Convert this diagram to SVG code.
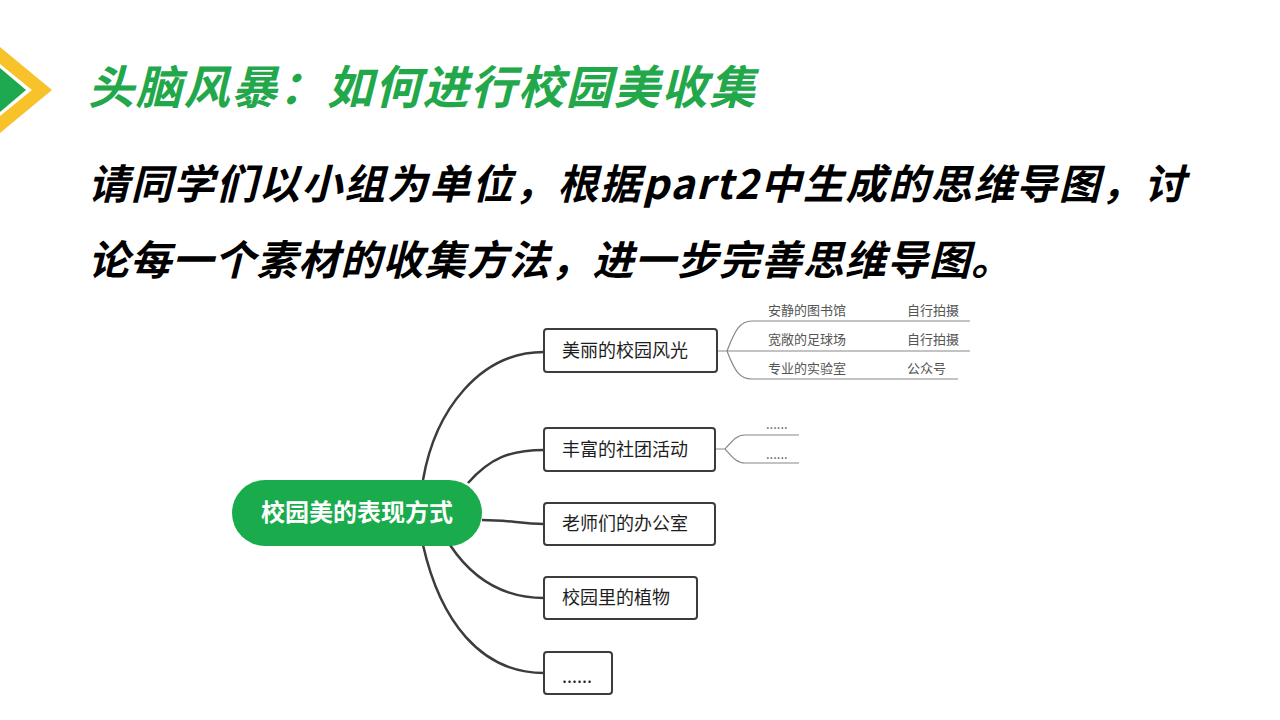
<svg xmlns="http://www.w3.org/2000/svg" width="1280" height="720" viewBox="0 0 1280 720">
<style>
.cjk{font-family:"Noto Sans CJK SC","Noto Sans",sans-serif}
.title{font-size:46px;font-weight:700;font-style:italic;fill:#22a84a}
.body{font-size:41px;font-weight:700;font-style:italic;fill:#000}
.box{fill:#fff;stroke:#3c3c3c;stroke-width:2;rx:3}
.boxt{font-size:18px;fill:#1e1e1e}
.small{font-size:13px;fill:#555}
.conn{fill:none;stroke:#3c3c3c;stroke-width:2.5}
.sub{fill:none;stroke:#888;stroke-width:1.2}
</style>
<rect width="1280" height="720" fill="#fff"/>
<g id="logo">
<polygon points="0,47 52,90 0,133 0,116 32,90 0,64" fill="#f8c22a"/>
<polygon points="0,68 26,90 0,112" fill="#1ea84f"/>
</g>
<text class="cjk title" x="88" y="104" textLength="667" lengthAdjust="spacing">头脑风暴：如何进行校园美收集</text>
<text class="cjk body" x="88" y="199" textLength="1097" lengthAdjust="spacing">请同学们以小组为单位，根据part2中生成的思维导图，讨</text>
<text class="cjk body" x="88" y="275" textLength="924" lengthAdjust="spacing">论每一个素材的收集方法，进一步完善思维导图。</text>
<g id="connectors">
<path class="conn" d="M423,480 C435,410 480,352 544,352"/>
<path class="conn" d="M468,483 C490,458 510,450 544,450"/>
<path class="conn" d="M482,520 C510,520 520,524 544,524"/>
<path class="conn" d="M450,545 C470,575 500,598 544,598"/>
<path class="conn" d="M423,545 C440,620 480,673 544,673"/>
<path class="sub" d="M717,351 H727 M727,351 C735,330 740,321 752,321 H970 M727,351 H970 M727,351 C735,372 740,379 752,379 H958"/>
<path class="sub" d="M715,449 H725 M725,449 C733,440 737,435 745,435 H799 M725,449 C733,458 737,463 745,463 H799"/>
</g>
<g id="root">
<rect x="232" y="480" width="250" height="66" rx="33" fill="#1aab4c"/>
<text class="cjk" x="357" y="521" text-anchor="middle" font-size="24" font-weight="700" fill="#fff">校园美的表现方式</text>
</g>
<g id="n1">
<rect class="box" x="544" y="329" width="173" height="43"/>
<text class="cjk boxt" x="562" y="357">美丽的校园风光</text>
</g>
<g id="n2">
<rect class="box" x="544" y="428" width="171" height="43"/>
<text class="cjk boxt" x="562" y="456">丰富的社团活动</text>
</g>
<g id="n3">
<rect class="box" x="544" y="503" width="171" height="42"/>
<text class="cjk boxt" x="562" y="530">老师们的办公室</text>
</g>
<g id="n4">
<rect class="box" x="544" y="577" width="153" height="42"/>
<text class="cjk boxt" x="562" y="604">校园里的植物</text>
</g>
<g id="n5">
<rect class="box" x="544" y="652" width="68" height="42"/>
<text class="cjk boxt" x="562" y="683">......</text>
</g>
<g id="n1-sub">
<text class="cjk small" x="768" y="315">安静的图书馆</text>
<text class="cjk small" x="907" y="315">自行拍摄</text>
<text class="cjk small" x="768" y="344">宽敞的足球场</text>
<text class="cjk small" x="907" y="344">自行拍摄</text>
<text class="cjk small" x="768" y="373">专业的实验室</text>
<text class="cjk small" x="907" y="373">公众号</text>
</g>
<g id="n2-sub">
<text class="cjk small" x="766" y="429">......</text>
<text class="cjk small" x="766" y="459">......</text>
</g>
</svg>
